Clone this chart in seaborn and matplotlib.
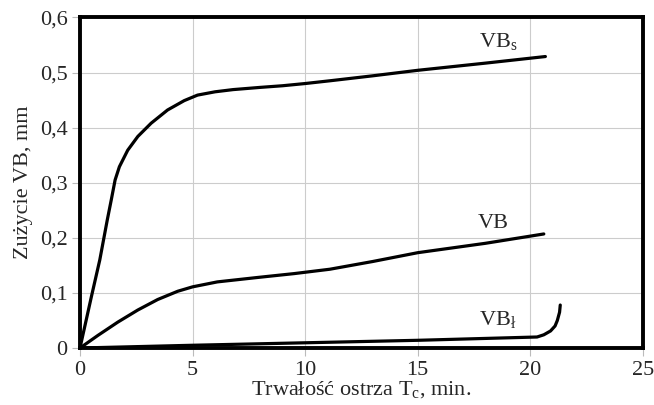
import matplotlib
matplotlib.use("Agg")
import matplotlib.pyplot as plt
import seaborn as sns
import numpy as np
import pandas as pd
from matplotlib.ticker import FuncFormatter

# Data
vbs_t = [0, 0.5, 0.88, 1.21, 1.39, 1.56, 1.75, 2.12, 2.57, 3.16, 3.89, 4.63, 5.22, 6.0, 6.8, 8.0, 9.0, 10.0, 11.1, 13.0, 15.0, 18.0, 20.67]
vbs_v = [0, 0.092, 0.16, 0.232, 0.269, 0.305, 0.329, 0.359, 0.384, 0.408, 0.432, 0.449, 0.459, 0.465, 0.469, 0.473, 0.476, 0.480, 0.485, 0.494, 0.504, 0.517, 0.529]

vb_t = [0, 0.8, 1.68, 2.57, 3.45, 4.34, 5.0, 6.1, 7.88, 9.5, 11.1, 13.0, 15.0, 18.0, 20.6]
vb_v = [0, 0.023, 0.047, 0.069, 0.088, 0.103, 0.111, 0.12, 0.128, 0.135, 0.143, 0.157, 0.173, 0.19, 0.207]

vbl_t = [0, 5.0, 10.0, 15.0, 20.3, 20.6, 20.9, 21.1, 21.2, 21.3, 21.33]
vbl_v = [0, 0.005, 0.0095, 0.014, 0.02, 0.024, 0.031, 0.04, 0.05, 0.065, 0.078]

xticks = [0, 5, 10, 15, 20, 25]
yticks = [0, 0.1, 0.2, 0.3, 0.4, 0.5, 0.6]

sns.set_theme(style="white")
plt.rcParams['font.family'] = ['Liberation Serif', 'DejaVu Serif']
plt.rcParams['mathtext.fontset'] = 'custom'
plt.rcParams['mathtext.rm'] = 'Liberation Serif'

fig = plt.figure(figsize=(6.54, 4.05), dpi=100)
ax = fig.add_axes([0.1223, 0.1407, 0.983 - 0.1223, 0.957 - 0.1407])

for t, v in [(vbs_t, vbs_v), (vb_t, vb_v), (vbl_t, vbl_v)]:
    df = pd.DataFrame({"t": t, "v": v})
    sns.lineplot(data=df, x="t", y="v", ax=ax, color="black", linewidth=2.3,
                 sort=False, estimator=None)
for ln in ax.lines:
    ln.set_solid_joinstyle("round")
    ln.set_solid_capstyle("round")

ax.set_xlim(0, 25)
ax.set_ylim(0, 0.6)
ax.set_xticks(xticks)
ax.set_yticks(yticks)
ax.yaxis.set_major_formatter(FuncFormatter(lambda v, p: "0" if v == 0 else f"{v:.1f}".replace(".", ",")))
ax.grid(True, color="#cccccc", linewidth=0.8)
ax.tick_params(axis="both", which="major", length=6, width=0.8, color="#bbbbbb",
               labelsize=16, pad=3, bottom=True, left=True)
for s in ax.spines.values():
    s.set_color("black")
    s.set_linewidth(2.8)

ax.set_xlabel("Trwałość ostrza T$_\\mathrm{c}$, min.", fontsize=16, labelpad=0)
ax.set_ylabel("Zużycie VB, mm", fontsize=16, labelpad=5)

ax.text(17.7, 0.535, "VB$_\\mathrm{s}$", fontsize=16, ha="left", va="bottom")
ax.text(17.65, 0.209, "VB", fontsize=16, ha="left", va="bottom")
ax.text(17.7, 0.031, "VB$_\\mathrm{ł}$", fontsize=16, ha="left", va="bottom")

fig.savefig("out.png", dpi=100)
